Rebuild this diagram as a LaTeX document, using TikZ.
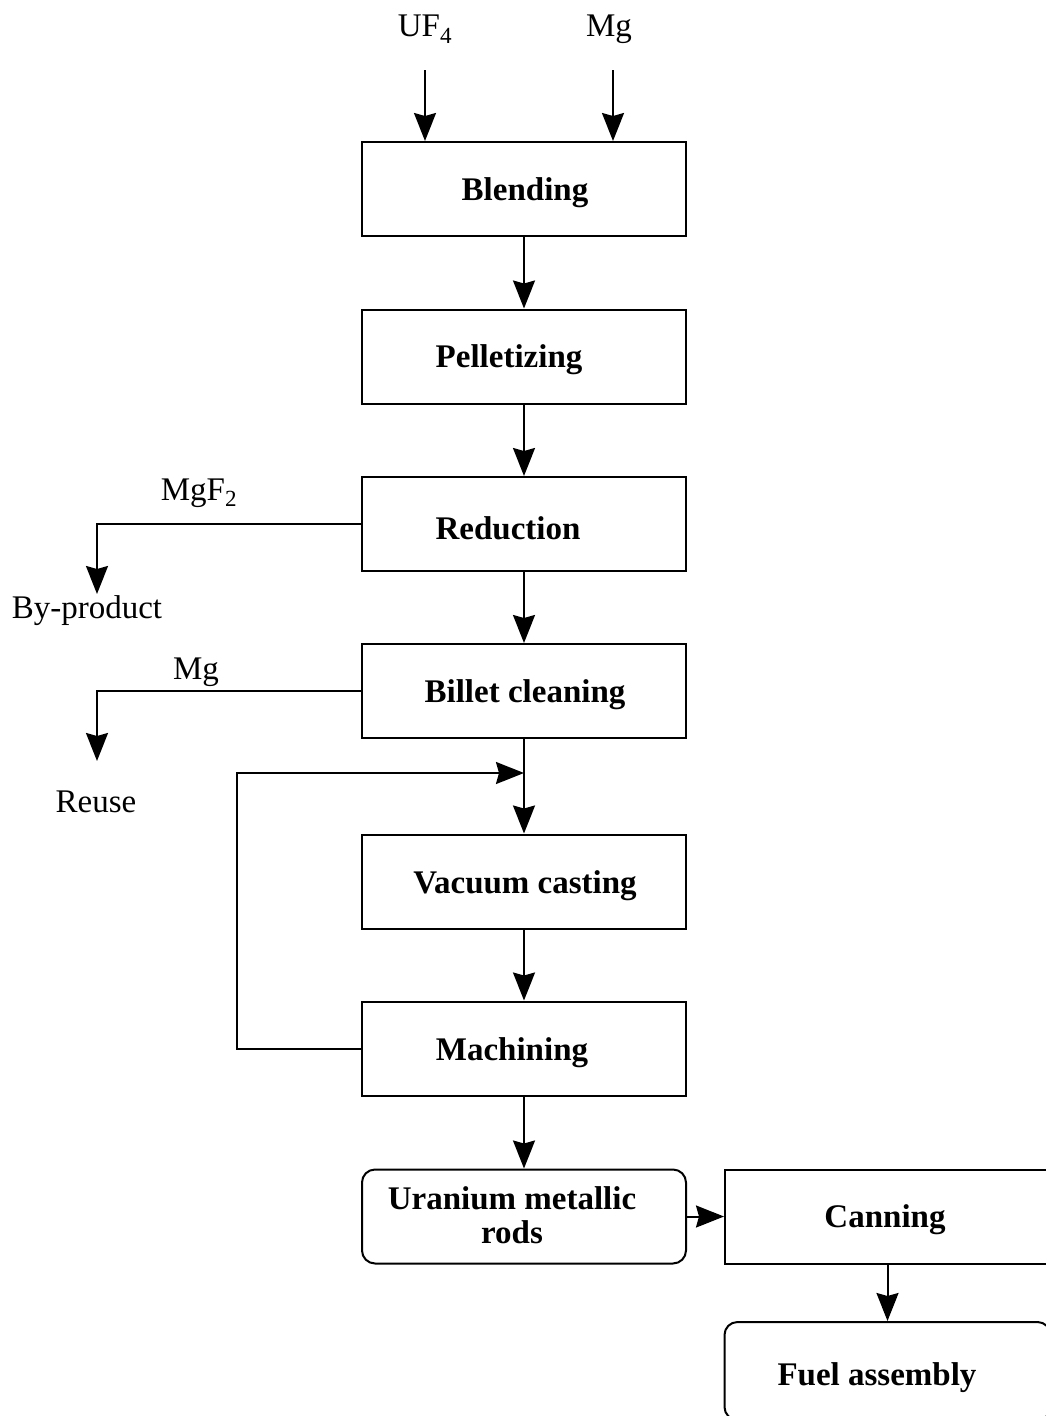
\documentclass[tikz,border=0pt]{standalone}
\usepackage{fontspec}
\setmainfont{Liberation Serif}
\usetikzlibrary{arrows.meta}
\begin{document}
\begin{tikzpicture}[x=1pt,y=-1pt,
  every node/.style={font=\fontsize{33}{38}\selectfont},
  procbox/.style={draw,line width=2pt,minimum width=324pt,minimum height=94pt,inner sep=0pt},
  endbox/.style={procbox,rounded corners=13pt},
  lbl/.style={font=\fontsize{33}{38}\selectfont\bfseries,align=center,inner sep=0pt},
  txt/.style={inner sep=0pt},
  arr/.style={line width=2pt,-{Stealth[length=28pt,width=22pt,inset=3pt]}},
  ln/.style={line width=2pt}]
\useasboundingbox (0,0) rectangle (1045,1416);

% process boxes
\node[procbox] (blend) at (524,189) {};
\node[procbox] (pell)  at (524,356.5) {};
\node[procbox] (red)   at (524,524) {};
\node[procbox] (bill)  at (524,691) {};
\node[procbox] (vac)   at (524,881.5) {};
\node[procbox] (mach)  at (524,1048.5) {};
\node[endbox]  (rods)  at (524,1216.5) {};
\node[procbox,minimum width=326pt] (can) at (888,1216.5) {};
\node[endbox,minimum width=326pt,minimum height=98pt] (fuel) at (887.5,1371) {};

% box captions
\node[lbl] (blendt) at (525,193) {Blending};
\node[lbl] (pellt)  at (509,360) {Pelletizing};
\node[lbl] (redt)   at (508,528) {Reduction};
\node[lbl] (billt)  at (525,695) {Billet cleaning};
\node[lbl] (vact)   at (525,886) {Vacuum casting};
\node[lbl] (macht)  at (512,1053) {Machining};
\node[lbl] (rodst)  at (512,1215) {Uranium metallic\\[-4pt]rods};
\node[lbl] (cant)   at (885,1220) {Canning};
\node[lbl] (fuelt)  at (877,1378) {Fuel assembly};

% feed materials
\node[txt] (uf4) at (425,29) {UF\textsubscript{4}};
\node[txt] (mgin) at (609,29) {Mg};
\coordinate (uf4s) at (425,70);
\coordinate (mgs) at (613,70);
\draw[arr] (uf4s) -- (uf4s |- blend.north);
\draw[arr] (mgs) -- (mgs |- blend.north);

% main line
\draw[arr] (blend) -- (pell);
\draw[arr] (pell) -- (red);
\draw[arr] (red) -- (bill);
\draw[arr] (bill) -- (vac);
\draw[arr] (vac) -- (mach);
\draw[arr] (mach) -- (rods);
\draw[arr] (rods) -- (can);
\draw[arr] (can.south -| fuel.north) -- (fuel.north);

% side streams
\node[txt] (mgf2) at (199,493) {MgF\textsubscript{2}};
\node[txt] (byp) at (87,611) {By-product};
\coordinate (byptip) at (97,594);
\draw[arr] (red.west) -| (byptip);

\node[txt] (mgout) at (196,672) {Mg};
\node[txt] (reuse) at (96,802) {Reuse};
\coordinate (reusetip) at (97,761);
\draw[arr] (bill.west) -| (reusetip);

% recycle of machining scrap
\coordinate (fbcorner) at (237,773);
\coordinate (fbjoin) at (524,773);
\draw[arr] (mach.west) -| (fbcorner) -- (fbjoin);
\end{tikzpicture}
\end{document}
